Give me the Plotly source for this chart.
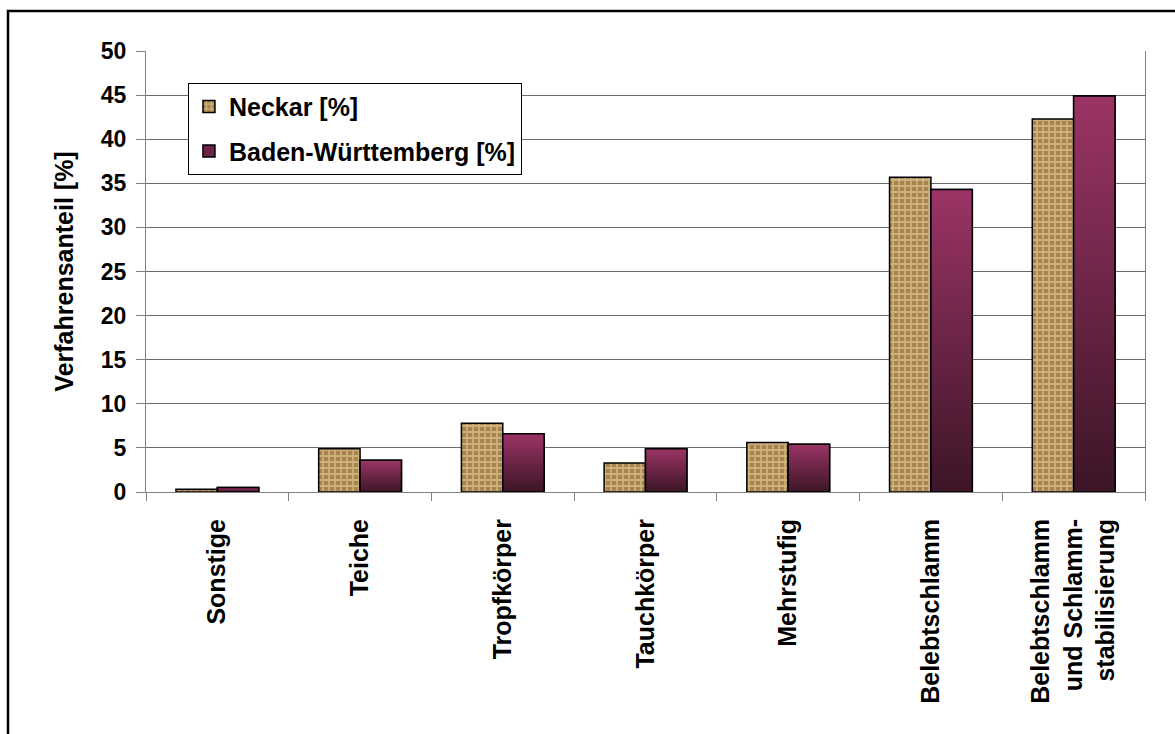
import plotly.graph_objects as go

# Anteil der Abwasserbehandlungsverfahren
categories = [
    "Sonstige",
    "Teiche",
    "Tropfkörper",
    "Tauchkörper",
    "Mehrstufig",
    "Belebtschlamm",
    "Belebtschlamm<br>und Schlamm-<br>stabilisierung",
]
neckar = [0.3, 4.9, 7.8, 3.3, 5.6, 35.7, 42.3]
baden_wuerttemberg = [0.5, 3.6, 6.6, 4.9, 5.4, 34.3, 44.9]
y_ticks = [0, 5, 10, 15, 20, 25, 30, 35, 40, 45, 50]

FONT = "Liberation Sans, Arial, sans-serif"
BAR_W = 0.29
BW_TOP = "#9b3466"
BW_BOTTOM = "#3c1526"

positions = list(range(len(categories)))

fig = go.Figure()

fig.add_trace(go.Bar(
    x=positions, y=neckar, name="Neckar [%]",
    width=BAR_W, offset=-BAR_W,
    marker=dict(
        color="#c8a66c",
        line=dict(color="black", width=1.5),
        pattern=dict(shape="+", bgcolor="#a8844c", fgcolor="#f0dcae",
                     size=6, solidity=0.5, fillmode="overlay"),
    ),
    legendgroup="n",
))

fig.add_trace(go.Bar(
    x=positions, y=baden_wuerttemberg, name="Baden-Württemberg [%]",
    width=BAR_W, offset=0,
    marker=dict(color="#6e2448", line=dict(color="black", width=1.5)),
    legendgroup="bw",
))

# vertical gradient for each Baden-Württemberg bar
for i, v in zip(positions, baden_wuerttemberg):
    fig.add_trace(go.Scatter(
        x=[i, i + BAR_W, i + BAR_W, i, i],
        y=[0, 0, v, v, 0],
        mode="lines", fill="toself",
        fillgradient=dict(type="vertical",
                          colorscale=[[0, BW_BOTTOM], [1, BW_TOP]]),
        line=dict(color="black", width=1.5),
        showlegend=False, hoverinfo="skip", legendgroup="bw",
    ))

fig.update_layout(
    width=1175, height=734,
    margin=dict(l=146, r=30, t=51, b=242),
    paper_bgcolor="white", plot_bgcolor="white",
    font=dict(family=FONT, size=18, color="black"),
    showlegend=True,
    legend=dict(
        x=0.042, y=0.928, xanchor="left", yanchor="top",
        bgcolor="white", bordercolor="black", borderwidth=1,
        font=dict(family=FONT, size=25, color="black", weight="bold"),
        traceorder="grouped", tracegroupgap=9,
    ),
    xaxis=dict(
        range=[-0.5, len(categories) - 0.5],
        tickmode="array", tickvals=positions, ticktext=categories,
        tickangle=-90, ticks="", showgrid=False, zeroline=False,
        tickfont=dict(family=FONT, size=25, color="black", weight="bold"),
        ticklabelstandoff=16,
        showline=True, linecolor="#808080", linewidth=1,
        minor=dict(tickmode="linear", tick0=-0.5, dtick=1, ticks="outside",
                   ticklen=8, tickcolor="#808080", showgrid=False),
    ),
    yaxis=dict(
        range=[0, 50], tickmode="array", tickvals=y_ticks,
        ticks="outside", ticklen=9, tickcolor="#808080",
        showgrid=True, gridcolor="#6b6b6b", gridwidth=1,
        zeroline=False, showline=True, linecolor="#808080", linewidth=1,
        mirror=True, ticklabelstandoff=5,
        tickfont=dict(family=FONT, size=23, color="black", weight="bold"),
        title=dict(text="Verfahrensanteil [%]", standoff=20,
                   font=dict(family=FONT, size=25, color="black", weight="bold")),
    ),
    shapes=[dict(
        type="rect", xref="paper", yref="paper",
        x0=-138 / 999, x1=1.04, y0=-0.6, y1=(492 - 11) / 441,
        line=dict(color="black", width=2.5), fillcolor="rgba(0,0,0,0)",
        layer="above",
    )],
)

fig.write_html("out.html")
